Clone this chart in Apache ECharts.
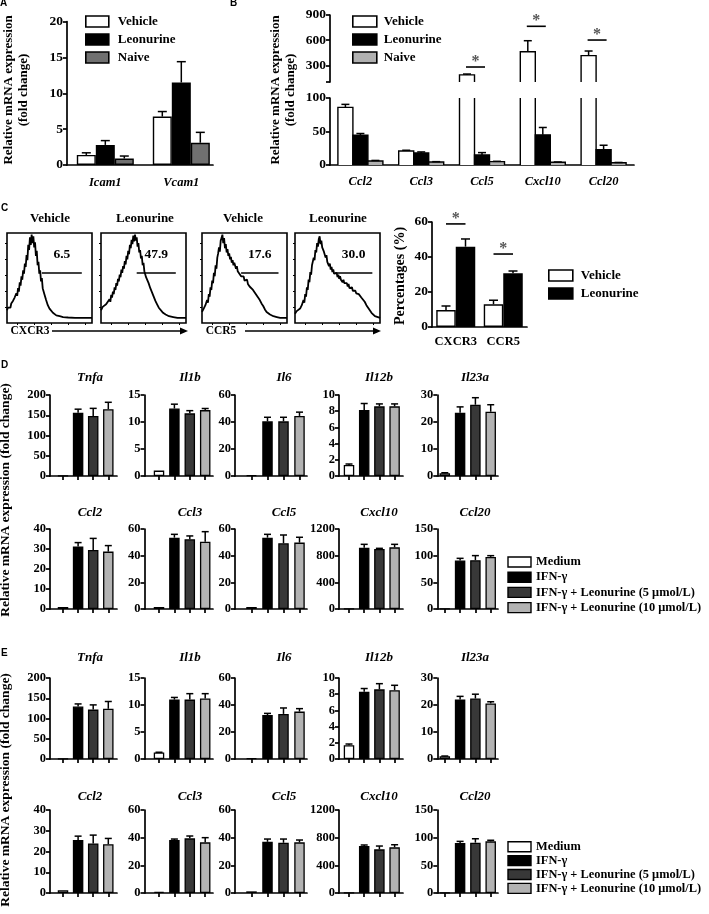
<!DOCTYPE html>
<html><head><meta charset="utf-8">
<script src="https://cdn.jsdelivr.net/npm/echarts@6/dist/echarts.min.js"></script>
<style>html,body{margin:0;padding:0;background:#fff}#c{width:709px;height:914px}</style>
</head><body><div id="c"></div>
<script>
// ================= DATA =================
// Panel A
const aCats = ['Icam1', 'Vcam1'];
const aVehicle = [1.4, 6.75], aVehicleErr = [0.3, 0.7];
const aLeonurine = [2.8, 11.5], aLeonurineErr = [0.6, 2.9];
const aNaive = [0.9, 3.1], aNaiveErr = [0.35, 1.45];
const aTicks = [0, 5, 10, 15, 20];

// Panel B (broken axis 0-100 / 100-900)
const bCats = ['Ccl2', 'Ccl3', 'Ccl5', 'Cxcl10', 'Ccl20'];
const bVehicle = [86, 21, 185, 462, 415], bVehicleErr = [4.5, 1, 10, 131, 55];
const bLeonurine = [44.5, 18, 15, 45, 23], bLeonurineErr = [2.5, 1.5, 3.5, 11, 6.5];
const bNaive = [6, 4.5, 5, 4, 3.4], bNaiveErr = [0.8, 0.5, 0.5, 0.5, 0.4];
const bUpperTicks = [300, 600, 900];
const bSig = [[2, 279], [3, 765], [4, 601]];

// Panel C
const cCats = ['CXCR3', 'CCR5'];
const cVehicle = [9.7, 13], cVehicleErr = [2.3, 2.3];
const cLeonurine = [45.9, 30.7], cLeonurineErr = [4.4, 1.3];
const cSig = [[0, 58.9], [1, 41.7]];
const flowTitles = ['Vehicle', 'Leonurine', 'Vehicle', 'Leonurine'];
const flowGates = ['6.5', '47.9', '17.6', '30.0'];
const flowGateRange = [[41, 88], [42, 88], [46, 90], [47, 91]];
const flowMarkers = ['CXCR3', 'CCR5'];
const hist1 = [[0,9],[1,12],[2,10],[3,14],[4,12],[5,17],[6,15],[7,20],[8,18],[9,24],[10,22],[11,29],[12,26],[13,35],[14,31],[15,42],[16,38],[17,49],[18,45],[19,56],[20,52],[21,64],[22,60],[23,74],[24,68],[25,86],[26,80],[27,95],[28,86],[29,98],[30,88],[31,96],[32,83],[33,89],[34,73],[35,79],[36,62],[37,66],[38,52],[39,56],[40,43],[41,47],[42,35],[43,37],[44,28],[45,30],[46,21],[47,23],[48,15],[49,16],[50,11],[52,9],[54,6],[56,4],[58,3],[62,2],[66,1],[72,0.5],[80,0],[100,0]];
const hist2 = [[0,9],[2,13],[4,11],[6,16],[8,14],[10,22],[11,19],[12,27],[13,24],[14,31],[15,28],[16,36],[17,33],[18,41],[19,38],[20,46],[21,43],[22,51],[23,48],[24,57],[25,53],[26,61],[27,58],[28,67],[29,63],[30,73],[31,69],[32,79],[33,75],[34,86],[35,82],[36,92],[37,87],[38,97],[39,90],[40,98],[41,91],[42,95],[43,84],[44,88],[45,77],[46,80],[47,70],[48,73],[49,62],[50,65],[51,55],[52,57],[53,48],[54,50],[56,41],[57,43],[58,35],[60,30],[62,25],[64,20],[66,16],[68,12],[70,10],[73,6],[76,4],[80,2],[85,1],[90,0],[100,0]];
const hist3 = [[0,7],[2,11],[3,9],[4,15],[5,13],[6,21],[7,18],[8,28],[9,25],[10,36],[11,33],[12,44],[13,41],[14,53],[15,49],[16,62],[17,58],[18,71],[19,76],[20,83],[21,78],[22,91],[23,94],[24,98],[25,88],[26,94],[27,82],[28,87],[29,77],[30,81],[31,73],[32,76],[33,69],[34,72],[35,65],[36,68],[37,62],[38,65],[40,58],[41,61],[42,55],[43,57],[44,52],[45,54],[46,49],[47,51],[48,47],[49,49],[50,44],[52,43],[53,45],[54,40],[55,42],[56,37],[57,39],[58,35],[60,33],[61,34],[62,30],[63,31],[64,27],[66,24],[67,25],[68,21],[70,17],[72,14],[74,10],[76,7],[78,5],[80,4],[84,2],[88,1],[92,0],[100,0]];
const hist4 = [[0,5],[2,8],[4,7],[6,11],[7,10],[8,15],[9,13],[10,21],[11,18],[12,28],[13,25],[14,36],[15,33],[16,45],[17,42],[18,54],[19,51],[20,62],[21,60],[22,71],[23,68],[24,80],[25,77],[26,88],[27,84],[28,93],[29,96],[30,87],[31,91],[32,83],[33,85],[34,78],[35,80],[36,71],[37,74],[38,66],[39,68],[40,61],[41,64],[42,57],[43,60],[44,54],[45,57],[46,52],[47,54],[48,50],[49,53],[50,48],[51,51],[52,46],[53,49],[54,45],[55,47],[56,42],[57,45],[58,41],[59,43],[60,39],[61,41],[62,37],[63,40],[64,35],[65,37],[66,34],[67,36],[68,32],[69,34],[70,30],[71,32],[72,29],[74,27],[75,28],[76,26],[78,24],[79,25],[80,22],[82,19],[84,15],[86,12],[88,9],[90,6],[92,4],[94,2],[96,1],[100,0]];
const hists = [hist1, hist2, hist3, hist4];

// Panels D / E
const treatments = ['Medium', 'IFN-γ', 'IFN-γ + Leonurine (5 μmol/L)', 'IFN-γ + Leonurine (10 μmol/L)'];
const genesRow1 = ['Tnfa', 'Il1b', 'Il6', 'Il12b', 'Il23a'];
const genesRow2 = ['Ccl2', 'Ccl3', 'Ccl5', 'Cxcl10', 'Ccl20'];
const maxRow1 = [200, 15, 60, 10, 30], tickRow1 = [50, 5, 20, 2, 10];
const maxRow2 = [40, 60, 60, 1200, 150], tickRow2 = [10, 20, 20, 400, 50];

const dVals1 = [[0.5,156,148,165],[1.0,12.5,11.6,12.2],[0.5,40.5,40.5,44.5],[1.36,8.15,8.6,8.6],[1.0,23.4,26.4,23.8]];
const dErr1  = [[0,9,19,17],[0,0.8,0.5,0.3],[0,3,3,2.8],[0.12,0.8,0.3,0.3],[0.2,2.2,2.6,2.6]];
const dVals2 = [[1.0,31.2,29.5,28.7],[1.5,53.5,52.3,50.5],[1.5,53.5,49.3,49.8],[3,920,900,925],[0.5,91,91.6,97.7]];
const dErr2  = [[0,2,5.8,3],[0,2.5,2.5,7.5],[0,2.5,6.2,4],[0,50,10,45],[0,4,8.5,2.3]];

const eVals1 = [[0.5,129.5,122,124],[1.2,11.0,11.0,11.2],[0.5,32.6,33.4,35.1],[1.7,8.3,8.6,8.5],[1.0,22.0,22.4,20.6]];
const eErr1  = [[0,6.5,11.6,18],[0.05,0.4,1.1,0.9],[0,1.2,4.4,2.2],[0.15,0.4,0.7,0.6],[0.1,1.2,1.6,0.6]];
const eVals2 = [[1.3,25.5,23.9,23.5],[0.8,38.3,39.5,36.6],[1.2,37,36.3,36.6],[2,679,631,660],[0.5,90.3,91,93.3]];
const eErr2  = [[0,1.9,4,2.8],[0,0.7,1.7,3.4],[0,2,2.7,1.7],[0,15,48,38],[0,3,7,2]];

// ================= STYLE / LAYOUT =================
const SERIF = '"Liberation Serif", "Times New Roman", serif';
const SANS = '"Liberation Sans", Arial, sans-serif';
const AX = {color: '#000', width: 1.7};
const treatColors = ['#ffffff', '#000000', '#383838', '#b3b3b3'];
const colAxisX = [50, 144.5, 235, 339, 437.3];
const colC0 = [63, 159, 251.5, 349, 444.8];
const colSp = [15.1, 15.4, 16, 15.2, 15.3];
const colEnd = [117, 213, 307, 403, 498];
const colTitleX = [90, 190, 284, 379, 475];

const grid = [], xAxis = [], yAxis = [], series = [], graphic = [], legend = [];
function addGrid(g) { grid.push(g); return grid.length - 1; }

function yVal(gi, min, max, interval, fs, extra) {
  return Object.assign({
    gridIndex: gi, type: 'value', min: min, max: max, interval: interval,
    axisLine: {show: true, onZero: false, lineStyle: AX},
    axisTick: {show: true, length: 4, lineStyle: AX},
    axisLabel: {color: '#000', fontFamily: SERIF, fontWeight: 'bold', fontSize: fs, margin: 4, formatter: v => String(v)},
    splitLine: {show: false}
  }, extra || {});
}
function txt(text, x, y, font, opts) {
  opts = opts || {};
  return Object.assign({
    type: 'text', x: x, y: y, silent: true,
    style: {text: text, font: font, fill: '#000',
      textAlign: opts.align || 'center', align: opts.align || 'center',
      textVerticalAlign: 'middle', verticalAlign: 'middle'}
  }, opts.rotate ? {rotation: Math.PI / 2} : {});
}
function errSeries(gi, pts, offset, cap) {
  return {
    type: 'custom', xAxisIndex: gi, yAxisIndex: gi, silent: true, z: 5,
    encode: {x: 0, y: 1}, data: pts, clip: false,
    renderItem: function (params, api) {
      const x = api.value(0), v = api.value(1), e = api.value(2);
      if (!(e > 0)) return null;
      const p0 = api.coord([x, v]), p1 = api.coord([x, v + e]);
      const cx = p0[0] + offset;
      return {type: 'group', children: [
        {type: 'line', shape: {x1: cx, y1: p0[1], x2: cx, y2: p1[1]}, style: {stroke: '#000', lineWidth: 1.5}},
        {type: 'line', shape: {x1: cx - cap / 2, y1: p1[1], x2: cx + cap / 2, y2: p1[1]}, style: {stroke: '#000', lineWidth: 1.5}}
      ]};
    }
  };
}
function sigSeries(gi, pts, off0, off1) {
  return {
    type: 'custom', xAxisIndex: gi, yAxisIndex: gi, silent: true, z: 6,
    encode: {x: 0, y: 1}, data: pts, clip: false,
    renderItem: function (params, api) {
      const p = api.coord([api.value(0), api.value(1)]);
      const x0 = p[0] + off0, x1 = p[0] + off1, xm = (x0 + x1) / 2;
      return {type: 'group', children: [
        {type: 'line', shape: {x1: x0, y1: p[1], x2: x1, y2: p[1]}, style: {stroke: '#000', lineWidth: 1.6}},
        {type: 'text', style: {text: '*', x: xm, y: p[1] - 5, font: 'bold 16px ' + SERIF, fill: '#555',
          textAlign: 'center', align: 'center', textVerticalAlign: 'middle', verticalAlign: 'middle'}}
      ]};
    }
  };
}
const legendItem = (name, color) => ({name: name, icon: 'rect',
  itemStyle: {color: color, borderColor: '#000', borderWidth: 1.6}});
function legendComp(left, top, iw, items, padLeft) {
  return {left: left, top: top, orient: 'vertical', padding: 0, itemWidth: iw, itemHeight: 11, itemGap: 5,
    selectedMode: false, data: items,
    textStyle: {fontFamily: SERIF, fontWeight: 'bold', fontSize: 13, color: '#000', lineHeight: 11, padding: [0, 0, 0, padLeft]}};
}

// ================= PANEL A =================
(function () {
  const gi = addGrid({left: 67, top: 21.5, width: 146, height: 143.5});
  xAxis.push({gridIndex: gi, type: 'value', min: -0.504, max: 1.417,
    axisLine: {show: true, onZero: false, lineStyle: AX}, axisTick: {show: false}, splitLine: {show: false},
    axisLabel: {customValues: [0, 1], formatter: v => aCats[Math.round(v)], color: '#000', fontFamily: SERIF,
      fontWeight: 'bold', fontStyle: 'italic', fontSize: 12.5, margin: 11}});
  yAxis.push(yVal(gi, aTicks[0], aTicks[aTicks.length - 1], aTicks[1] - aTicks[0], 13.5));
  const defs = [['Vehicle', aVehicle, aVehicleErr, '#ffffff'], ['Leonurine', aLeonurine, aLeonurineErr, '#000000'], ['Naive', aNaive, aNaiveErr, '#707070']];
  const w = 19;
  defs.forEach((d, k) => {
    series.push({type: 'bar', name: d[0], xAxisIndex: gi, yAxisIndex: gi, barWidth: w, barGap: '0%',
      data: aCats.map((c, i) => [i, d[1][i]]), itemStyle: {color: d[3], borderColor: '#000', borderWidth: 1.4}});
    series.push(errSeries(gi, aCats.map((c, i) => [i, d[1][i], d[2][i]]), (k - 1) * w, 9));
  });
  legend.push(legendComp(85, 15, 23, defs.map(d => legendItem(d[0], d[3])), 4));
  graphic.push(txt('Relative mRNA expression', 9, 90, 'bold 13px ' + SERIF, {rotate: true}));
  graphic.push(txt('(fold change)', 24, 90, 'bold 13px ' + SERIF, {rotate: true}));
})();

// ================= PANEL B =================
(function () {
  const gLo = addGrid({left: 330, top: 98, width: 304, height: 67});
  xAxis.push({gridIndex: gLo, type: 'category', data: bCats,
    axisLine: {show: true, lineStyle: AX}, axisTick: {show: false},
    axisLabel: {interval: 0, color: '#000', fontFamily: SERIF, fontWeight: 'bold', fontStyle: 'italic', fontSize: 12.5, margin: 10}});
  yAxis.push(yVal(gLo, 0, 100, 50, 13.5));
  const gHi = addGrid({left: 330, top: 15, width: 304, height: 67});
  xAxis.push({gridIndex: gHi, type: 'category', data: bCats, show: false});
  yAxis.push(yVal(gHi, 100, 900, null, 13.5, {
    axisLabel: {customValues: bUpperTicks, color: '#000', fontFamily: SERIF, fontWeight: 'bold', fontSize: 13.5, margin: 4},
    axisTick: {show: true, length: 4, lineStyle: AX, customValues: [100].concat(bUpperTicks)}}));
  const defs = [['Vehicle', bVehicle, bVehicleErr, '#ffffff'], ['Leonurine', bLeonurine, bLeonurineErr, '#000000'], ['Naive', bNaive, bNaiveErr, '#b0b0b0']];
  const w = 15;
  function render(offset, fill, lo, hi) {
    return function (params, api) {
      const x = api.value(0), v = api.value(1), e = api.value(2);
      if (v <= lo) return null;
      const top = Math.min(v, hi);
      const pb = api.coord([x, lo]), pt = api.coord([x, top]);
      const cx = pb[0] + offset, x0 = cx - w / 2, x1 = cx + w / 2;
      const S = {stroke: '#000', lineWidth: 1.4, fill: null};
      const ch = [{type: 'rect', shape: {x: x0, y: pt[1], width: w, height: pb[1] - pt[1]}, style: {fill: fill}}];
      if (v > hi) {
        ch.push({type: 'line', shape: {x1: x0, y1: pb[1], x2: x0, y2: pt[1]}, style: S});
        ch.push({type: 'line', shape: {x1: x1, y1: pb[1], x2: x1, y2: pt[1]}, style: S});
      } else {
        ch.push({type: 'polyline', shape: {points: [[x0, pb[1]], [x0, pt[1]], [x1, pt[1]], [x1, pb[1]]]}, style: S});
        if (e > 0) {
          const pe = api.coord([x, Math.min(v + e, hi)]);
          ch.push({type: 'line', shape: {x1: cx, y1: pt[1], x2: cx, y2: pe[1]}, style: {stroke: '#000', lineWidth: 1.5}});
          ch.push({type: 'line', shape: {x1: cx - 4, y1: pe[1], x2: cx + 4, y2: pe[1]}, style: {stroke: '#000', lineWidth: 1.5}});
        }
      }
      return {type: 'group', children: ch};
    };
  }
  defs.forEach((d, k) => {
    const pts = bCats.map((c, i) => [i, d[1][i], d[2][i]]);
    [[gLo, 0, 100], [gHi, 100, 900]].forEach(g => {
      series.push({type: 'custom', name: d[0], xAxisIndex: g[0], yAxisIndex: g[0], encode: {x: 0, y: 1},
        itemStyle: {color: d[3]}, data: pts, clip: false, renderItem: render((k - 1) * w, d[3], g[1], g[2])});
    });
  });
  series.push(sigSeries(gHi, bSig, -16, 3));
  legend.push(legendComp(352, 15, 24, defs.map(d => legendItem(d[0], d[3])), 2));
  graphic.push(txt('Relative mRNA expression', 276, 90, 'bold 13px ' + SERIF, {rotate: true}));
  graphic.push(txt('(fold change)', 291, 90, 'bold 13px ' + SERIF, {rotate: true}));
})();

// ================= PANEL C : flow histograms =================
(function () {
  const lefts = [7, 101, 202, 295];
  const titleX = [50, 145, 243, 338];
  hists.forEach((h, k) => {
    const gi = addGrid({left: lefts[k], top: 233, width: 85, height: 90, show: true, borderColor: '#000', borderWidth: 1.6, backgroundColor: 'transparent'});
    xAxis.push({gridIndex: gi, type: 'value', min: 0, max: 100,
      axisLine: {show: false, onZero: false}, axisLabel: {show: false}, splitLine: {show: false},
      axisTick: {show: true, length: 2, lineStyle: {color: '#000', width: 1}, customValues: [12, 32, 52, 72, 92]}});
    yAxis.push({gridIndex: gi, type: 'value', min: -6, max: 100,
      axisLine: {show: false, onZero: false}, axisLabel: {show: false}, splitLine: {show: false},
      axisTick: {show: true, length: 2, lineStyle: {color: '#000', width: 1}, customValues: [12, 31, 50, 69, 88]}});
    series.push({type: 'line', name: flowTitles[k] + ' ' + flowMarkers[k < 2 ? 0 : 1], xAxisIndex: gi, yAxisIndex: gi,
      data: h, showSymbol: false, symbol: 'none', lineStyle: {color: '#000', width: 1.8}, silent: true,
      markLine: {silent: true, symbol: ['none', 'none'], animation: false,
        lineStyle: {color: '#000', width: 1.6, type: 'solid'},
        label: {show: true, position: 'middle', distance: 11, formatter: flowGates[k], color: '#000',
          fontFamily: SERIF, fontWeight: 'bold', fontSize: 13.5},
        data: [[{coord: [flowGateRange[k][0], 53]}, {coord: [flowGateRange[k][1], 53]}]]}});
    graphic.push(txt(flowTitles[k], titleX[k], 219, 'bold 13px ' + SERIF));
  });
  [[30, 52, 188], [221, 245, 381]].forEach((a, i) => {
    graphic.push(txt(flowMarkers[i], a[0], 331, 'bold 11.5px ' + SERIF));
    graphic.push({type: 'line', silent: true, shape: {x1: a[1], y1: 331, x2: a[2] - 6, y2: 331}, style: {stroke: '#000', lineWidth: 1.6}});
    graphic.push({type: 'polygon', silent: true, shape: {points: [[a[2], 331], [a[2] - 8, 327.5], [a[2] - 8, 334.5]]}, style: {fill: '#000'}});
  });
})();

// ================= PANEL C : percentages =================
(function () {
  const gi = addGrid({left: 432, top: 222, width: 95, height: 105});
  xAxis.push({gridIndex: gi, type: 'category', data: cCats,
    axisLine: {show: true, lineStyle: AX}, axisTick: {show: false},
    axisLabel: {interval: 0, color: '#000', fontFamily: SERIF, fontWeight: 'bold', fontSize: 12.5, margin: 8}});
  yAxis.push(yVal(gi, 0, 60, 20, 13.5));
  const defs = [['Vehicle', cVehicle, cVehicleErr, '#ffffff'], ['Leonurine', cLeonurine, cLeonurineErr, '#000000']];
  const w = 19.5;
  defs.forEach((d, k) => {
    series.push({type: 'bar', name: d[0], xAxisIndex: gi, yAxisIndex: gi, barWidth: w, barGap: '0%',
      data: d[1].slice(), itemStyle: {color: d[3], borderColor: '#000', borderWidth: 1.4}});
    series.push(errSeries(gi, cCats.map((c, i) => [i, d[1][i], d[2][i]]), (k - 0.5) * w, 9));
  });
  series.push(sigSeries(gi, cSig, -w / 2, w / 2));
  legend.push(legendComp(548, 269, 24, defs.map(d => legendItem(d[0], d[3])), 3));
  graphic.push(txt('Percentages (%)', 400, 276, 'bold 14px ' + SERIF, {rotate: true}));
})();

// ================= PANELS D / E =================
const rowsDef = [
  {top: 395, h: 81, ty: 378, genes: genesRow1, vals: dVals1, errs: dErr1, max: maxRow1, tick: tickRow1},
  {top: 529, h: 80, ty: 513, genes: genesRow2, vals: dVals2, errs: dErr2, max: maxRow2, tick: tickRow2},
  {top: 678, h: 81, ty: 658, genes: genesRow1, vals: eVals1, errs: eErr1, max: maxRow1, tick: tickRow1},
  {top: 810, h: 83, ty: 797, genes: genesRow2, vals: eVals2, errs: eErr2, max: maxRow2, tick: tickRow2}
];
rowsDef.forEach(r => {
  r.genes.forEach((g, c) => {
    const gi = addGrid({left: colAxisX[c], top: r.top, width: colEnd[c] - colAxisX[c], height: r.h});
    xAxis.push({gridIndex: gi, type: 'value',
      min: (colAxisX[c] - colC0[c]) / colSp[c], max: (colEnd[c] - colC0[c]) / colSp[c],
      axisLine: {show: true, onZero: false, lineStyle: AX}, axisLabel: {show: false}, splitLine: {show: false},
      axisTick: {show: true, length: 4, lineStyle: AX, customValues: [0, 1, 2, 3]}});
    yAxis.push(yVal(gi, 0, r.max[c], r.tick[c], 12.5));
    series.push({type: 'bar', name: g, xAxisIndex: gi, yAxisIndex: gi, barWidth: 10.5,
      data: r.vals[c].map((v, k) => ({value: [k, v], name: treatments[k], itemStyle: {color: treatColors[k]}})),
      itemStyle: {borderColor: '#000', borderWidth: 1.3}});
    series.push(errSeries(gi, r.vals[c].map((v, k) => [k, v, r.errs[c][k]]), 0, 7));
    graphic.push(txt(g, colTitleX[c], r.ty, 'italic bold 13px ' + SERIF));
  });
});
[[562, 15.2], [846.7, 13.9]].forEach(L => {
  treatments.forEach((t, k) => {
    const cy = L[0] + k * L[1];
    graphic.push({type: 'rect', silent: true, shape: {x: 508, y: cy - 5, width: 23, height: 10}, style: {fill: treatColors[k], stroke: '#000', lineWidth: 1.4}});
    graphic.push(txt(t, 536, cy, 'bold 12.4px ' + SERIF, {align: 'left'}));
  });
});
graphic.push(txt('Relative mRNA expression (fold change)', 6, 500, 'bold 13.5px ' + SERIF, {rotate: true}));
graphic.push(txt('Relative mRNA expression (fold change)', 6, 790, 'bold 13.5px ' + SERIF, {rotate: true}));

[['A', 0, 3], ['B', 230, 3], ['C', 1, 208], ['D', 1, 365], ['E', 1, 653]].forEach(p => {
  graphic.push(txt(p[0], p[1], p[2], 'bold 10px ' + SANS, {align: 'left'}));
});

const chart = echarts.init(document.getElementById('c'), null, {renderer: 'canvas'});
chart.setOption({
  animation: false,
  backgroundColor: '#ffffff',
  grid: grid, xAxis: xAxis, yAxis: yAxis, series: series, legend: legend, graphic: graphic
});
</script>
</body></html>
